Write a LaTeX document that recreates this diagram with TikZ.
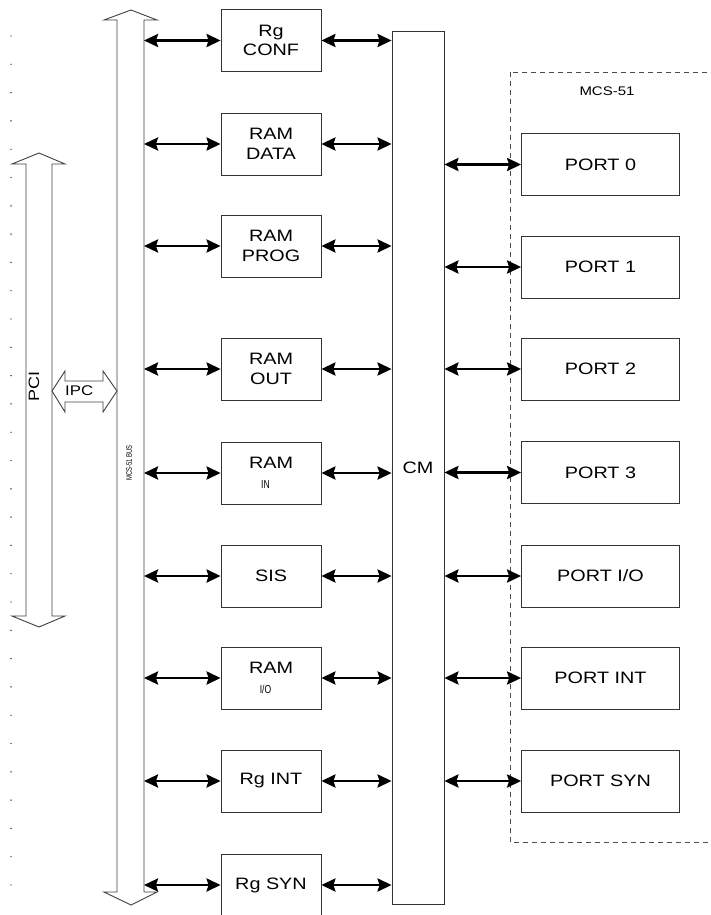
\documentclass[tikz,border=0pt]{standalone}
\usepackage{fontspec}
\setmainfont{Liberation Sans}[FakeStretch=1.2]
\usepackage{tikz}
\usetikzlibrary{arrows.meta,positioning,calc}

\newcommand{\subl}[1]{{\fontsize{11.5}{13}\selectfont\scalebox{0.62}[1]{#1}}}

\begin{document}
\begin{tikzpicture}[x=1pt,y=-1pt,
  blk/.style={draw=black!80,line width=0.8pt,align=center,minimum width=100pt,
              minimum height=62pt,inner sep=0pt,font=\fontsize{16.5}{19.5}\selectfont},
  port/.style={blk,minimum width=158pt},
  link/.style={{Stealth[length=14pt,width=13pt,inset=2pt]}-{Stealth[length=14pt,width=13pt,inset=2pt]},line width=2.8pt},
  fatarrow/.style={draw=black!75,line width=0.9pt,fill=white},
  frame/.style={draw=black!70,dashed,dash pattern=on 5pt off 4pt,line width=0.8pt}
]
\useasboundingbox (0,0) rectangle (710,915);
\begin{scope}
\clip (0,0) rectangle (710,915);

% dotted margin
\foreach \y in {36,64.3,...,912} \fill (11,\y) circle (0.7pt);

% MCS-51 area
\draw[frame] (510,72) rectangle (716,842);
\node[font=\fontsize{12.5}{14}\selectfont] (mcslbl) at (607,91) {MCS-51};

% PCI and bus arrows
\draw[fatarrow] (26,164) -- (12,164) -- (39,153) -- (65,164) -- (52,164) -- (52,616)
  -- (65,616) -- (39,627) -- (12,616) -- (26,616) -- cycle;
\node[rotate=90,font=\fontsize{15}{17}\selectfont] (pci) at (34,386) {PCI};
\draw[fatarrow] (117,20) -- (104,20) -- (131,10) -- (157,20) -- (144,20) -- (144,892)
  -- (157,892) -- (131,905) -- (104,892) -- (117,892) -- cycle;
\node[rotate=90,font=\fontsize{8}{9}\selectfont] (buslbl) at (129,463) {\scalebox{0.62}[1]{MCS-51 BUS}};
\draw[fatarrow] (52,391) -- (65,371) -- (65,381) -- (103,381) -- (103,371) -- (117,391)
  -- (103,412) -- (103,402) -- (65,402) -- (65,412) -- cycle;
\node[anchor=west,inner sep=0pt,font=\fontsize{14}{16}\selectfont] (ipc) at (65,391) {IPC};
\coordinate (busR) at (144,0);

% central module
\node[draw=black!80,line width=0.8pt,minimum width=52pt,minimum height=873pt,
      font=\fontsize{16.5}{19.5}\selectfont] (cm) at (418,467.5) {CM};

% register and memory blocks
\node[blk] (rgconf)  at (271,40.5) {Rg\\CONF};
\node[blk] (ramdata) at (271,144) {RAM\\DATA};
\node[blk] (ramprog) at (271,246) {RAM\\PROG};
\node[blk] (ramout)  at (271,369) {RAM\\OUT};
\node[blk] (ramin)   at (271,473) {RAM\\\subl{IN}\hspace*{11pt}};
\node[blk] (sis)     at (271,576) {SIS};
\node[blk] (ramio)   at (271,678) {RAM\\\subl{I/O}\hspace*{11pt}};
\node[blk] (rgint)   at (271,781) {Rg INT};
\node[blk] (rgsyn)   at (271,885) {Rg SYN};

% ports
\node[port] (port0)   at (600.5,164.5) {PORT 0};
\node[port] (port1)   at (600.5,267) {PORT 1};
\node[port] (port2)   at (600.5,369) {PORT 2};
\node[port] (port3)   at (600.5,472.5) {PORT 3};
\node[port] (portio)  at (600.5,576) {PORT I/O};
\node[port] (portint) at (600.5,678) {PORT INT};
\node[port] (portsyn) at (600.5,781) {PORT SYN};

\foreach \b in {rgconf,ramdata,ramprog,ramout,ramin,sis,ramio,rgint,rgsyn}{
  \draw[link] (\b.west -| busR) -- (\b.west);
  \draw[link] (\b.east) -- (\b.east -| cm.west);
}
\foreach \p in {port0,port1,port2,port3,portio,portint,portsyn}
  \draw[link] (\p.west -| cm.east) -- (\p.west);
\end{scope}
\end{tikzpicture}
\end{document}
